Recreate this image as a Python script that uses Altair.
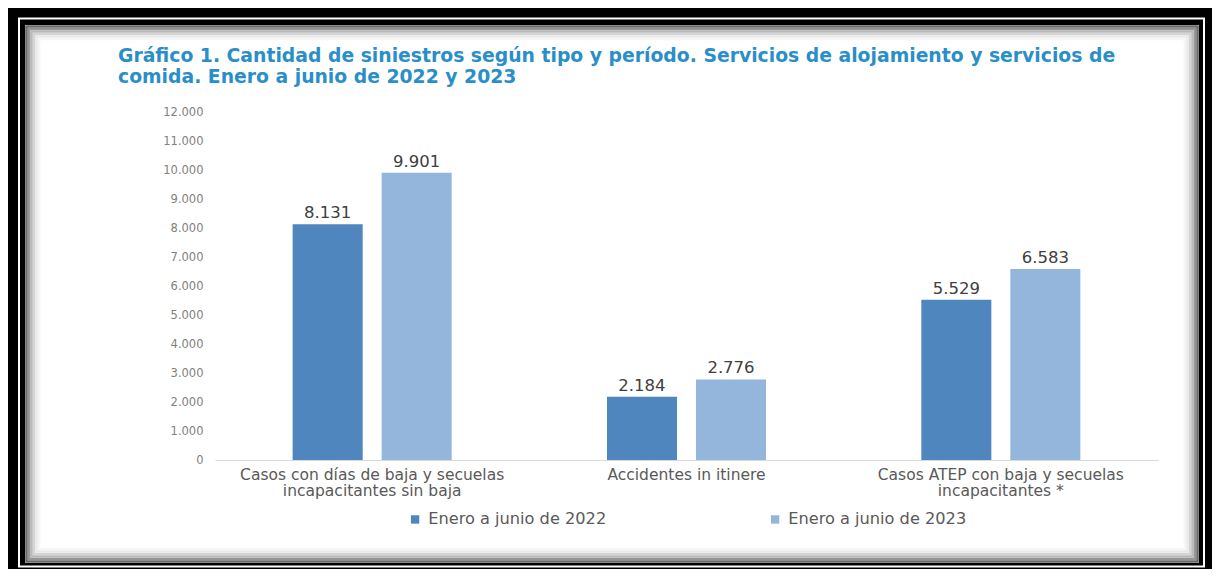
import altair as alt
import pandas as pd

# ---- data ----
categories = [
    "Casos con días de baja y secuelas|incapacitantes sin baja",
    "Accidentes in itinere",
    "Casos ATEP con baja y secuelas|incapacitantes *",
]
periods = ["Enero a junio de 2022", "Enero a junio de 2023"]
values_2022 = [8131, 2184, 5529]
values_2023 = [9901, 2776, 6583]
y_ticks = [0, 1000, 2000, 3000, 4000, 5000, 6000, 7000, 8000, 9000, 10000, 11000, 12000]
title_lines = [
    "Gráfico 1. Cantidad de siniestros según tipo y período. Servicios de alojamiento y servicios de",
    "comida. Enero a junio de 2022 y 2023",
]
colors = ["#4f86be", "#95b6dc"]

rows = []
for c, a, b in zip(categories, values_2022, values_2023):
    rows.append({"cat": c, "period": periods[0], "value": a})
    rows.append({"cat": c, "period": periods[1], "value": b})
df = pd.DataFrame(rows)

W, H = 943, 348
PAD = {"left": 207, "top": 104, "right": 54, "bottom": 109}
OX, OY = 215, 112  # page position of plot origin

x = alt.X(
    "cat:N",
    sort=categories,
    scale=alt.Scale(paddingInner=0.494, paddingOuter=0.247),
    axis=alt.Axis(
        title=None, labelAngle=0, labelExpr="split(datum.label, '|')",
        labelFont="DejaVu Sans", labelFontSize=15.5, labelColor="#595959",
        labelPadding=7, labelLineHeight=16, labelLimit=500, ticks=False,
        domainColor="#d9d9d9", domainWidth=1, zindex=1,
    ),
)
xo = alt.XOffset("period:N", sort=periods,
                 scale=alt.Scale(paddingInner=0.213, paddingOuter=0))
y = alt.Y(
    "value:Q",
    scale=alt.Scale(domain=[0, 12000], nice=False),
    axis=alt.Axis(
        title=None, values=y_ticks, format=",d", grid=False, domain=False,
        ticks=False, labelFont="DejaVu Sans", labelFontSize=11.5,
        labelColor="#7f7f7f", labelPadding=12, zindex=1,
    ),
)
color = alt.Color(
    "period:N",
    sort=periods,
    scale=alt.Scale(domain=periods, range=colors),
    legend=alt.Legend(
        title=None, orient="none", legendX=192, legendY=399,
        direction="horizontal", symbolType="square", symbolSize=70,
        symbolStrokeWidth=0, labelFont="DejaVu Sans", labelFontSize=16.2,
        labelColor="#595959", labelOffset=5, labelLimit=400,
        columnPadding=160, zindex=1,
    ),
)

bars = alt.Chart(df).mark_bar().encode(x=x, xOffset=xo, y=y, color=color)
labels = alt.Chart(df).mark_text(
    baseline="bottom", dy=-3, font="DejaVu Sans", fontSize=16.5, color="#404040"
).encode(x=x, xOffset=xo, y=y, text=alt.Text("value:Q", format=",d"))

# ---- decorative frame (page coordinates converted to plot coordinates) ----
one = alt.Data(values=[{"k": 0}])


def frame_rect(x1, y1, x2, y2, **kw):
    return alt.Chart(one).mark_rect(**kw).encode(
        x=alt.value(x1 - OX), x2=alt.value(x2 - OX),
        y=alt.value(y1 - OY), y2=alt.value(y2 - OY),
    )


deco = [
    frame_rect(25, 25, 1199, 563, fill="white"),
    frame_rect(19, 18.5, 1204, 566.5, fillOpacity=0, stroke="white", strokeWidth=2),
]
shade = ["#6a6a6a", "#959595", "#b8b8b8", "#d4d4d4", "#e9e9e9", "#f6f6f6"]
for i, col in enumerate(shade):
    d = 1.5 + 2.5 * i
    deco.append(frame_rect(25 + d, 25 + d, 1199 - d, 563 - d,
                           fillOpacity=0, stroke=col, strokeWidth=2.6))

chart = alt.layer(*deco, bars, labels).properties(
    width=W,
    height=H,
    padding=PAD,
    autosize=alt.AutoSizeParams(type="none"),
    background="black",
    title=alt.TitleParams(
        text=title_lines, anchor="start", frame="group", dx=-97, dy=79,
        font="DejaVu Sans", fontSize=18.8, fontWeight="bold", color="#2a8fc8",
        lineHeight=21, offset=10, zindex=1,
    ),
).configure_view(stroke="transparent")

chart.save(
    "out.html",
    embed_options={
        "renderer": "svg",
        "actions": False,
        "formatLocale": {
            "decimal": ",", "thousands": ".", "grouping": [3],
            "currency": ["$", ""],
        },
    },
)
